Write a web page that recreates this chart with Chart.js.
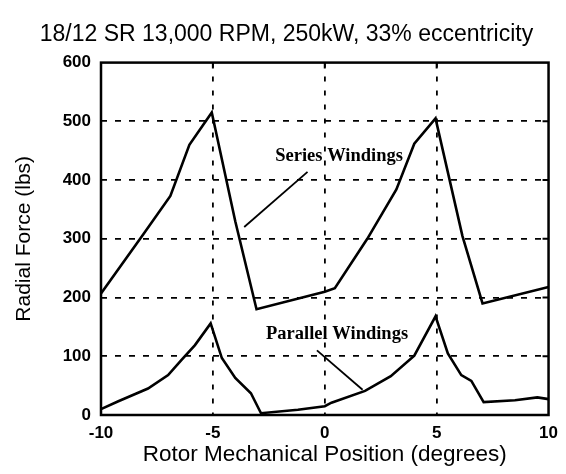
<!DOCTYPE html>
<html>
<head>
<meta charset="utf-8">
<title>Radial force vs rotor position</title>
<script src="https://cdn.jsdelivr.net/npm/chart.js@4.4.1/dist/chart.umd.min.js"></script>
<style>
    html, body { margin: 0; padding: 0; background: #fff; }
    #wrap { width: 566px; height: 474px; }
</style>
</head>
<body>
<div id="wrap"><canvas id="forceChart" width="566" height="474"></canvas></div>
<script>
// Rotor position (degrees) and radial force (lbs)
const seriesPos   = [-10, -8.1, -6.9, -6.05, -5.05, -4.0, -3.05, 0, 0.45, 1.9, 3.2, 4.0, 4.95, 6.15, 7.05, 10];
const seriesForce = [207, 308, 373, 460, 515, 330, 180, 210, 216, 300, 384, 462, 505, 305, 190, 218];

const parallelPos   = [-10, -9.25, -7.9, -7.0, -6.4, -5.8, -5.1, -4.6, -4.0, -3.3, -2.85, -1.2, 0, 0.3, 1.8, 2.95, 4.0, 4.95, 5.5, 6.1, 6.55, 7.1, 8.5, 9.5, 10];
const parallelForce = [10, 23, 45, 68, 94, 119, 156, 97, 63, 37, 3, 9, 15, 21, 41, 66, 101, 168, 105, 68, 58, 22, 25, 30, 27];

const xTickVals = [-10, -5, 0, 5, 10];
const yTickVals = [0, 100, 200, 300, 400, 500, 600];

// Curve labels: text, where the text sits (data units), leader line ends
const noteText = ['Series Windings', 'Parallel Windings'];
const noteAt   = [[0.64, 433], [0.55, 130]];
const noteLine = [[[-3.6, 320], [-0.77, 414]], [[-0.35, 110], [1.69, 43]]];

const sansFont = '"Liberation Sans", Arial, Helvetica, sans-serif';

function toPoints(xs, ys) {
    return xs.map((v, i) => ({ x: v, y: ys[i] }));
}

// Move the title a bit right, the original is centred over the plot, not the page
const titleNudge = {
    id: 'titleNudge',
    afterLayout(chart) {
        const t = chart.titleBlock;
        if (t) {
            t.left += 12;
            t.right += 12;
        }
    }
};

// Box around the plot, little inward ticks, curve labels with leaders
const framePlugin = {
    id: 'frame',
    afterDatasetsDraw(chart) {
        const { ctx, chartArea: a, scales: { x, y } } = chart;
        ctx.save();
        ctx.strokeStyle = '#000';
        ctx.lineWidth = 2.5;
        ctx.strokeRect(a.left, a.top, a.right - a.left, a.bottom - a.top);

        ctx.lineWidth = 2;
        ctx.beginPath();
        xTickVals.slice(1, -1).forEach(v => {
            const px = x.getPixelForValue(v);
            ctx.moveTo(px, a.top);
            ctx.lineTo(px, a.top + 6);
        });
        yTickVals.slice(1, -1).forEach(v => {
            const py = y.getPixelForValue(v);
            ctx.moveTo(a.right, py);
            ctx.lineTo(a.right - 6, py);
        });
        ctx.stroke();

        ctx.fillStyle = '#000';
        ctx.font = 'bold 18.5px "Liberation Serif", "Times New Roman", serif';
        ctx.textAlign = 'center';
        ctx.textBaseline = 'alphabetic';
        noteText.forEach((txt, i) => {
            ctx.fillText(txt, x.getPixelForValue(noteAt[i][0]), y.getPixelForValue(noteAt[i][1]));
            const [p0, p1] = noteLine[i];
            ctx.lineWidth = 1.8;
            ctx.beginPath();
            ctx.moveTo(x.getPixelForValue(p0[0]), y.getPixelForValue(p0[1]));
            ctx.lineTo(x.getPixelForValue(p1[0]), y.getPixelForValue(p1[1]));
            ctx.stroke();
        });
        ctx.restore();
    }
};

document.addEventListener('DOMContentLoaded', function() {
    const canvas = document.getElementById('forceChart');

    new Chart(canvas, {
        type: 'line',
        data: {
            datasets: [{
                label: 'Series Windings',
                data: toPoints(seriesPos, seriesForce),
                borderColor: '#000',
                borderWidth: 2.6,
                pointRadius: 0,
                tension: 0,
                fill: false
            }, {
                label: 'Parallel Windings',
                data: toPoints(parallelPos, parallelForce),
                borderColor: '#000',
                borderWidth: 2.6,
                pointRadius: 0,
                tension: 0,
                fill: false
            }]
        },
        options: {
            responsive: false,
            animation: false,
            devicePixelRatio: 1,
            layout: { padding: { left: 0, right: 17, top: 0, bottom: 0 } },
            plugins: {
                legend: { display: false },
                tooltip: { enabled: false },
                title: {
                    display: true,
                    text: '18/12 SR 13,000 RPM, 250kW, 33% eccentricity',
                    color: '#000',
                    font: { family: sansFont, size: 23, weight: 'normal' },
                    padding: { top: 21, bottom: 14 }
                }
            },
            scales: {
                x: {
                    type: 'linear',
                    min: -10,
                    max: 10,
                    afterBuildTicks: s => { s.ticks = xTickVals.map(v => ({ value: v })); },
                    afterFit: s => { s.height = 59; },
                    ticks: {
                        color: '#000',
                        padding: 8,
                        maxRotation: 0,
                        font: { family: sansFont, size: 17, weight: 'bold' }
                    },
                    grid: {
                        color: c => (c.tick && (c.tick.value === -10 || c.tick.value === 10)) ? 'rgba(0,0,0,0)' : '#000',
                        lineWidth: 1.8,
                        drawTicks: false
                    },
                    border: { display: false, dash: [5, 9] },
                    title: {
                        display: true,
                        text: 'Rotor Mechanical Position (degrees)',
                        color: '#000',
                        font: { family: sansFont, size: 22.5 },
                        padding: { top: 0, bottom: 6 }
                    }
                },
                y: {
                    min: 0,
                    max: 600,
                    afterBuildTicks: s => { s.ticks = yTickVals.map(v => ({ value: v })); },
                    afterFit: s => { s.width = 101; },
                    ticks: {
                        color: '#000',
                        padding: 10,
                        font: { family: sansFont, size: 17, weight: 'bold' }
                    },
                    grid: {
                        color: c => (c.tick && (c.tick.value === 0 || c.tick.value === 600)) ? 'rgba(0,0,0,0)' : '#000',
                        lineWidth: 1.8,
                        drawTicks: false
                    },
                    border: { display: false, dash: [6, 8] },
                    title: {
                        display: true,
                        text: 'Radial Force (lbs)',
                        color: '#000',
                        font: { family: sansFont, size: 21 },
                        padding: { top: 12, bottom: 0 }
                    }
                }
            }
        },
        plugins: [titleNudge, framePlugin]
    });
});
</script>
</body>
</html>
